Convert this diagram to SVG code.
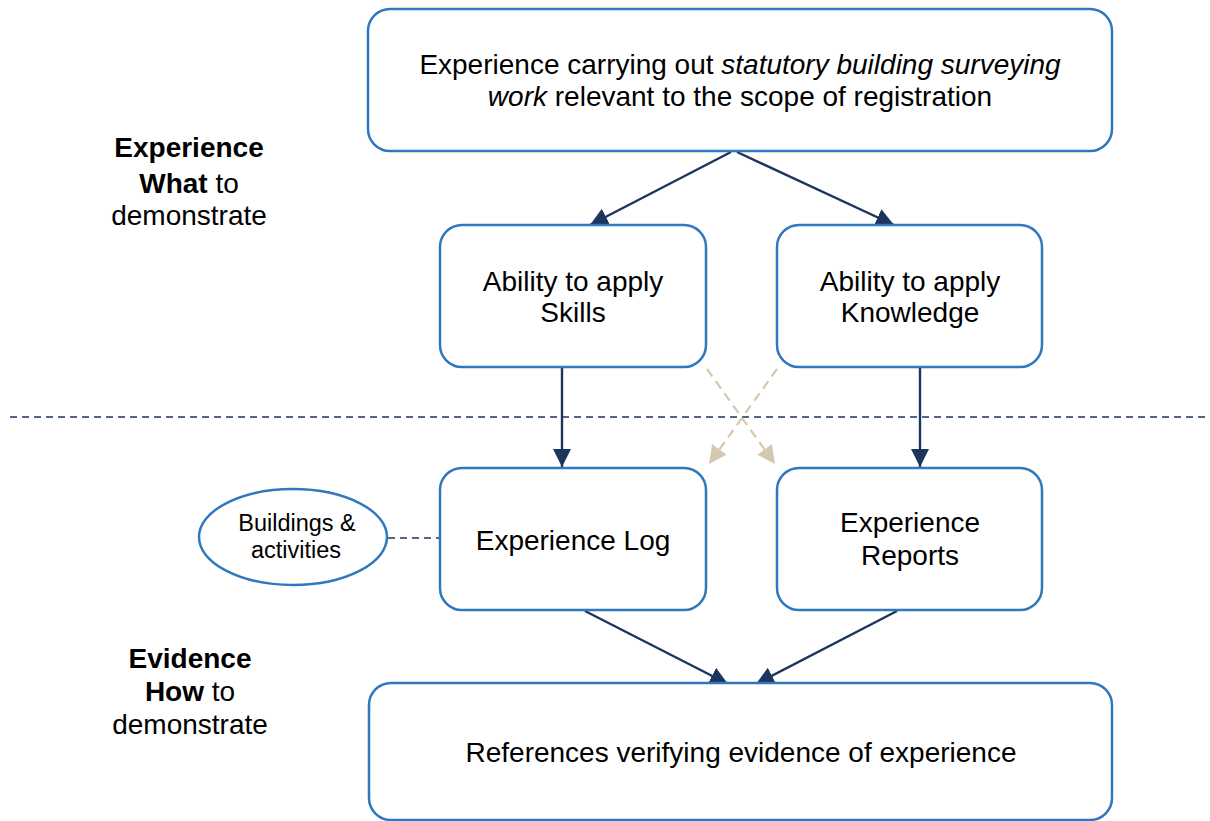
<svg xmlns="http://www.w3.org/2000/svg" width="1210" height="821" viewBox="0 0 1210 821">
  <style>
    .box { fill: #ffffff; stroke: #2e78bd; stroke-width: 2.5; }
    .t { font-family: "Liberation Sans", Arial, sans-serif; font-size: 28px; fill: #000000; text-anchor: middle; }
    .ts { font-family: "Liberation Sans", Arial, sans-serif; font-size: 23.5px; fill: #000000; text-anchor: middle; }
    .b { font-weight: bold; }
    .arrow { stroke: #1c355e; stroke-width: 2.4; fill: none; marker-end: url(#ah); }
    .tan { stroke: #d6c8ae; stroke-width: 2.2; fill: none; stroke-dasharray: 9 6; marker-end: url(#ahTan); }
    .sep { stroke: #1c355e; stroke-width: 1.6; stroke-dasharray: 7 5; fill: none; }
  </style>
  <defs>
    <marker id="ah" markerUnits="userSpaceOnUse" markerWidth="18" markerHeight="18" viewBox="0 0 16 16" refX="16" refY="8" orient="auto">
      <path d="M0,0 L16,8 L0,16 Z" fill="#1c355e"/>
    </marker>
    <marker id="ahTan" markerUnits="userSpaceOnUse" markerWidth="18" markerHeight="18" viewBox="0 0 16 16" refX="16" refY="8" orient="auto">
      <path d="M0,0 L16,8 L0,16 Z" fill="#d6c8ae"/>
    </marker>
  </defs>
  <rect width="1210" height="821" fill="#ffffff"/>

  <g id="label-experience">
    <text class="t" x="189" y="157"><tspan class="b">Experience</tspan></text>
    <text class="t" x="189" y="193"><tspan class="b">What</tspan> to</text>
    <text class="t" x="189" y="225">demonstrate</text>
  </g>
  <g id="label-evidence">
    <text class="t" x="190" y="668"><tspan class="b">Evidence</tspan></text>
    <text class="t" x="190" y="701"><tspan class="b">How</tspan> to</text>
    <text class="t" x="190" y="734">demonstrate</text>
  </g>

  <g id="connectors">
    <line class="sep" x1="10" y1="417" x2="1210" y2="417"/>
    <line class="sep" x1="388" y1="538" x2="440" y2="538"/>
    <line class="arrow" x1="731" y1="152" x2="590" y2="225"/>
    <line class="arrow" x1="737" y1="152" x2="894" y2="225"/>
    <line class="arrow" x1="562" y1="368" x2="562" y2="467"/>
    <line class="arrow" x1="920" y1="368" x2="920" y2="467"/>
    <line class="tan" x1="707" y1="369" x2="775" y2="464"/>
    <line class="tan" x1="777" y1="369" x2="709" y2="464"/>
    <line class="arrow" x1="585" y1="611" x2="728" y2="684"/>
    <line class="arrow" x1="897" y1="611" x2="756" y2="684"/>
  </g>

  <g id="node-top">
    <rect class="box" x="368" y="9" width="744" height="142" rx="22"/>
    <text class="t" x="740" y="74">Experience carrying out <tspan font-style="italic">statutory building surveying</tspan></text>
    <text class="t" x="740" y="106"><tspan font-style="italic">work</tspan> relevant to the scope of registration</text>
  </g>
  <g id="node-skills">
    <rect class="box" x="440" y="225" width="266" height="142" rx="22"/>
    <text class="t" x="573" y="291">Ability to apply</text>
    <text class="t" x="573" y="322">Skills</text>
  </g>
  <g id="node-knowledge">
    <rect class="box" x="777" y="225" width="265" height="142" rx="22"/>
    <text class="t" x="910" y="291">Ability to apply</text>
    <text class="t" x="910" y="322">Knowledge</text>
  </g>
  <g id="node-log">
    <rect class="box" x="440" y="468" width="266" height="142" rx="22"/>
    <text class="t" x="573" y="550">Experience Log</text>
  </g>
  <g id="node-reports">
    <rect class="box" x="777" y="468" width="265" height="142" rx="22"/>
    <text class="t" x="910" y="532">Experience</text>
    <text class="t" x="910" y="565">Reports</text>
  </g>
  <g id="node-buildings">
    <ellipse class="box" cx="293" cy="537" rx="94" ry="48"/>
    <text class="ts" x="297" y="531">Buildings &amp;</text>
    <text class="ts" x="296" y="558">activities</text>
  </g>
  <g id="node-references">
    <rect class="box" x="369" y="683" width="743" height="137" rx="22"/>
    <text class="t" x="741" y="762">References verifying evidence of experience</text>
  </g>
</svg>
